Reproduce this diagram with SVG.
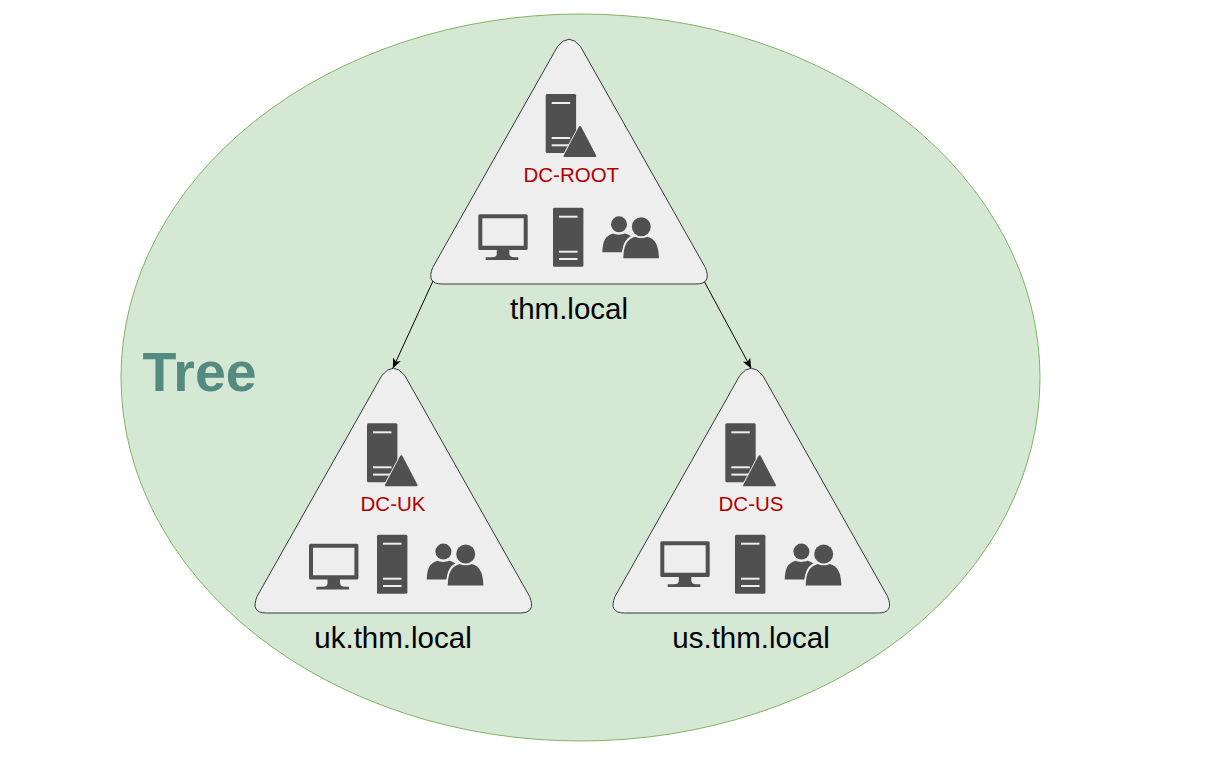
<svg xmlns="http://www.w3.org/2000/svg" width="1218" height="760" viewBox="0 0 1218 760">
<style>
.tri{fill:#eeeeee;stroke:#36393d;stroke-width:1}
.ico{fill:#505050}
.cut{fill:#eeeeee}
.lbl{font-family:"Liberation Sans",Arial,sans-serif;font-size:29.5px;fill:#000;text-anchor:middle}
.dc{font-family:"Liberation Sans",Arial,sans-serif;font-size:20.5px;fill:#b20000;text-anchor:middle}
.title{font-family:"Liberation Sans",Arial,sans-serif;font-size:55.5px;font-weight:bold;fill:#548a80}
.edge{fill:none;stroke:#000;stroke-width:1;marker-end:url(#arrow)}
</style>
<defs>
<marker id="arrow" viewBox="0 0 10 10" refX="9.5" refY="5" markerWidth="10" markerHeight="10" markerUnits="userSpaceOnUse" orient="auto">
<path d="M0,0.8 L10,5 L0,9.2 L2.5,5 Z" fill="#000"/>
</marker>
<path id="triangle" class="tri" d="M127.5,7 Q139,-7.5 150.5,7 L275.3,228 Q282,244.5 266,244.5 L12,244.5 Q-4,244.5 2.7,228 Z"/>
<g id="server">
<rect class="ico" width="30.4" height="59" rx="1.5"/>
<rect class="cut" x="6" y="8" width="18.5" height="2"/>
<rect class="cut" x="6" y="43" width="18.5" height="2"/>
<rect class="cut" x="6" y="50.3" width="18.5" height="2"/>
</g>
<g id="dcicon">
<use href="#server"/>
<path class="cut" d="M34.3,29 L15,65 L53,65 Z"/>
<path class="ico" d="M34.3,32 Q35,32 35.6,33 L50.5,61.5 Q51,63 49.5,63 L18.6,63 Q17.2,63 18,61.5 L33,33 Q33.6,32 34.3,32 Z"/>
</g>
<g id="monitor">
<path class="ico" fill-rule="evenodd" d="M1.5,0 H47.8 Q49.4,0 49.4,1.5 V34.2 Q49.4,35.7 47.8,35.7 H1.5 Q0,35.7 0,34.2 V1.5 Q0,0 1.5,0 Z M4,4 V31.5 H45.4 V4 Z"/>
<path class="ico" d="M18.5,35 H31 V39.5 Q31.5,43 36,43 H40 V45.7 H7.4 V43 H13.5 Q18.5,43 18.5,39.5 Z"/>
</g>
<g id="users">
<circle class="ico" cx="16.7" cy="8.3" r="8"/>
<path class="ico" d="M0,36.3 C0.6,25 2.5,20 11,17.5 C13,19 20,19 22.5,17.5 C25,18 27.5,19 29,20.5 C24,23 21,28 20,36.3 Z"/>
<path class="cut" d="M19.3,43.5 C19.6,30 22,23 30,19.5 L48,19.5 L58,43.5 Z"/>
<circle class="ico" cx="39" cy="10.7" r="9.5"/>
<path class="ico" d="M21,42.3 C21.5,30 24,23.5 33,20.8 C36,22.5 42,22.5 45,20.8 C53.5,23 56.3,30 56.7,42.3 Z"/>
</g>
</defs>
<rect width="1218" height="760" fill="#ffffff"/>
<g id="tree">
<ellipse cx="580.5" cy="377.5" rx="459.5" ry="363.5" fill="#d5e8d4" stroke="#82b366" stroke-width="1"/>
<text class="title" x="142.5" y="391">Tree</text>
</g>
<g id="connectors">
<path class="edge" d="M433,281 L393,368"/>
<path class="edge" d="M704,281 L751,368"/>
</g>
<g id="node-root">
<use href="#triangle" x="430" y="39.5"/>
<use href="#dcicon" x="545.7" y="94"/>
<text class="dc" x="571.3" y="182">DC-ROOT</text>
<use href="#monitor" x="478.3" y="214.3"/>
<use href="#server" x="553" y="207.7"/>
<use href="#users" x="602.3" y="216"/>
<text class="lbl" x="569" y="318.5">thm.local</text>
</g>
<g id="node-uk">
<use href="#triangle" x="254.3" y="368.5"/>
<use href="#dcicon" x="367" y="423.3"/>
<text class="dc" x="393" y="511">DC-UK</text>
<use href="#monitor" x="309" y="543.7"/>
<use href="#server" x="377" y="534.7"/>
<use href="#users" x="426.7" y="543.3"/>
<text class="lbl" x="393" y="647.5">uk.thm.local</text>
</g>
<g id="node-us">
<use href="#triangle" x="612.3" y="368.5"/>
<use href="#dcicon" x="725.3" y="423.3"/>
<text class="dc" x="751" y="511">DC-US</text>
<use href="#monitor" x="660.3" y="541.3"/>
<use href="#server" x="735" y="534.7"/>
<use href="#users" x="784.7" y="543.3"/>
<text class="lbl" x="751" y="647.5">us.thm.local</text>
</g>
</svg>
